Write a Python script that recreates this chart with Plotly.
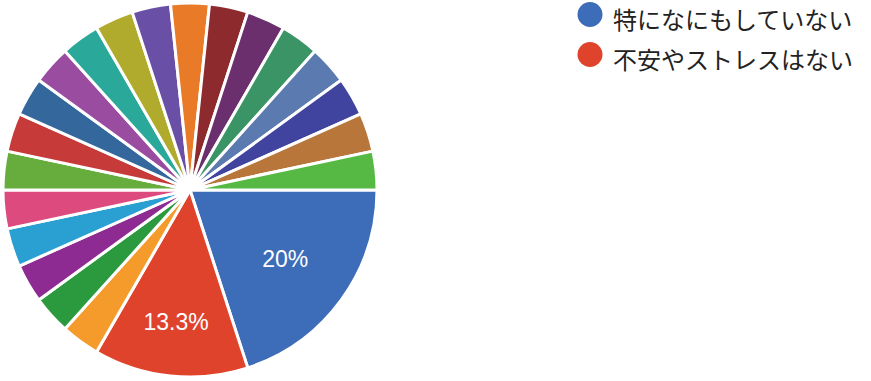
import plotly.graph_objects as go

labels = ["特になにもしていない", "不安やストレスはない"] + [f"その他{i}" for i in range(1, 21)]
values = [6, 4] + [1] * 20
colors = ["#3d6cb8", "#e0432c", "#f59b2c", "#2b9a3e", "#8d2b92", "#2a9fd2", "#dd4a7e",
          "#66ad3e", "#c63b39", "#34689d", "#9a4ca0", "#2aa99a", "#b0ab2c", "#6a4fa6",
          "#e87a28", "#8d2a2e", "#6a2f6c", "#3a9466", "#5b7bb0", "#41449e", "#b9763a",
          "#55b944"]
legend_labels = labels[:2]
legend_colors = colors[:2]

texttemplate = ["%{percent:.3~p}" if v >= 4 else "" for v in values]

W, H = 871, 381
cx, cy, R = 190, 190, 187

fig = go.Figure(go.Pie(
    labels=labels, values=values, sort=False, direction="clockwise", rotation=90,
    marker=dict(colors=colors, line=dict(color="white", width=3)),
    texttemplate=texttemplate, textposition="inside", insidetextorientation="horizontal",
    textfont=dict(family="Liberation Sans, Arial", size=23, color="white"),
    showlegend=False, hoverinfo="label+percent",
    domain=dict(x=[(cx - R) / W, (cx + R) / W], y=[(H - cy - R) / H, (H - cy + R) / H]),
))

shapes, annotations = [], []
for i, (lab, col) in enumerate(zip(legend_labels, legend_colors)):
    yc = 14.5 + i * 40
    shapes.append(dict(type="circle", xref="paper", yref="paper",
                       x0=(590 - 12.5) / W, x1=(590 + 12.5) / W,
                       y0=1 - (yc + 12.5) / H, y1=1 - (yc - 12.5) / H,
                       fillcolor=col, line=dict(width=0)))
    annotations.append(dict(text=lab, xref="paper", yref="paper", x=612 / W,
                            y=1 - (i * 40) / H,
                            xanchor="left", yanchor="top", showarrow=False, borderpad=0,
                            font=dict(family="Noto Sans CJK JP", size=24, color="#222222")))

fig.update_layout(width=W, height=H, margin=dict(l=0, r=0, t=0, b=0),
                  paper_bgcolor="white", plot_bgcolor="white",
                  shapes=shapes, annotations=annotations)
fig.write_html("out.html", config={"displayModeBar": False},
               post_script="document.body.style.margin='0';document.body.style.overflow='hidden';")
